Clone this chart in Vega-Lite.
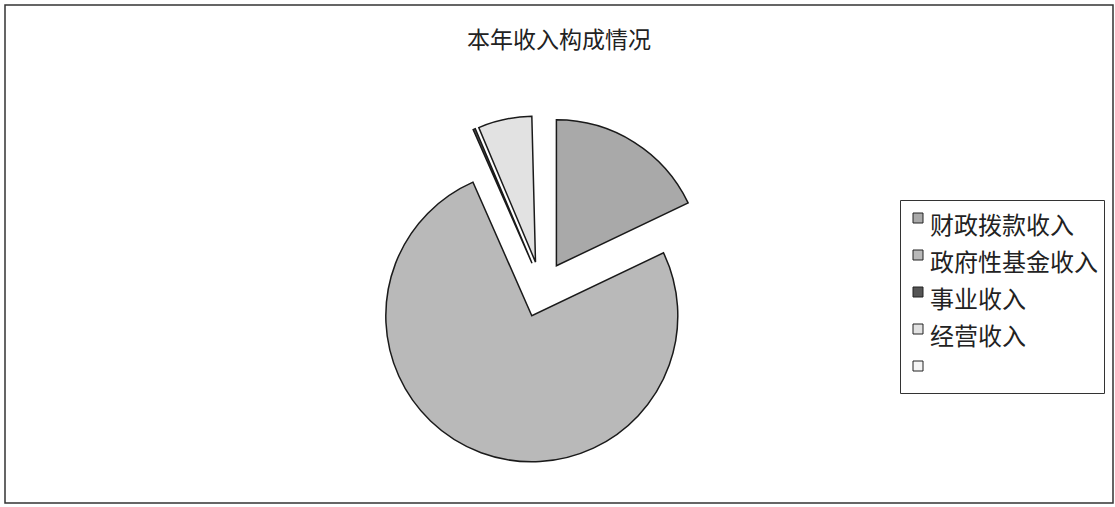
{
  "$schema": "https://vega.github.io/schema/vega-lite/v6.json",
  "width": 1108,
  "height": 498,
  "padding": {"left": 5, "top": 5, "right": 2, "bottom": 4},
  "autosize": {"type": "pad"},
  "background": "white",
  "view": {"stroke": "#333333", "strokeWidth": 1.5, "fill": "white"},
  "config": {
    "view": {"stroke": "#333333", "strokeWidth": 1.5},
    "style": {"view": {"stroke": "#333333", "strokeWidth": 1.5}},
    "font": "Noto Sans CJK SC"
  },
  "title": {
    "text": "本年收入构成情况",
    "frame": "group",
    "anchor": "middle",
    "orient": "top",
    "baseline": "middle",
    "offset": -37,
    "dy": 22,
    "fontSize": 23,
    "fontWeight": "normal",
    "font": "Noto Sans CJK SC",
    "color": "#222222"
  },
  "data": {
    "values": [
      {"类别": "财政拨款收入", "占比": 17.9},
      {"类别": "政府性基金收入", "占比": 75.5},
      {"类别": "事业收入", "占比": 0.25},
      {"类别": "经营收入", "占比": 5.95},
      {"类别": "", "占比": 0.4}
    ]
  },
  "transform": [
    {"stack": "占比", "groupby": [], "as": ["起", "止"]}
  ],
  "encoding": {
    "theta": {"field": "起", "type": "quantitative", "scale": {"domain": [0, 100]}},
    "theta2": {"field": "止"},
    "color": {
      "field": "类别",
      "type": "nominal",
      "scale": {
        "domain": ["财政拨款收入", "政府性基金收入", "事业收入", "经营收入", ""],
        "range": ["#a9a9a9", "#b9b9b9", "#555555", "#e2e2e2", "#f5f5f5"]
      },
      "legend": {
        "title": null,
        "orient": "none",
        "legendX": 895,
        "legendY": 195,
        "strokeColor": "#333333",
        "padding": 6,
        "symbolType": "square",
        "symbolSize": 100,
        "symbolStrokeColor": "#222222",
        "symbolStrokeWidth": 1,
        "labelFontSize": 24,
        "labelFont": "Noto Sans CJK SC",
        "labelColor": "#222222",
        "labelOffset": 0,
        "labelBaseline": "middle",
        "rowPadding": 4,
        "labelLimit": 300,
        "encode": {"labels": {"update": {"dy": {"value": 9}}}}
      }
    }
  },
  "layer": [
    {
      "transform": [{"filter": {"field": "类别", "equal": "财政拨款收入"}}],
      "mark": {"type": "arc", "radius": 146, "stroke": "#1a1a1a", "strokeWidth": 1.5, "xOffset": -2.6, "yOffset": 11.8}
    },
    {
      "transform": [{"filter": {"field": "类别", "equal": "政府性基金收入"}}],
      "mark": {"type": "arc", "radius": 146, "stroke": "#1a1a1a", "strokeWidth": 1.5, "xOffset": -27.2, "yOffset": 61.8}
    },
    {
      "transform": [{"filter": {"field": "类别", "equal": "事业收入"}}],
      "mark": {"type": "arc", "radius": 146, "stroke": "#1a1a1a", "strokeWidth": 1.5, "xOffset": -27.0, "yOffset": 9.2}
    },
    {
      "transform": [{"filter": {"field": "类别", "equal": "经营收入"}}],
      "mark": {"type": "arc", "radius": 146, "stroke": "#1a1a1a", "strokeWidth": 1.5, "xOffset": -23.5, "yOffset": 8.1}
    },
    {
      "transform": [{"filter": {"field": "类别", "equal": ""}}],
      "mark": {"type": "arc", "radius": 146, "stroke": "#1a1a1a", "strokeWidth": 1.5, "xOffset": -17.8, "yOffset": 7.5}
    }
  ]
}
